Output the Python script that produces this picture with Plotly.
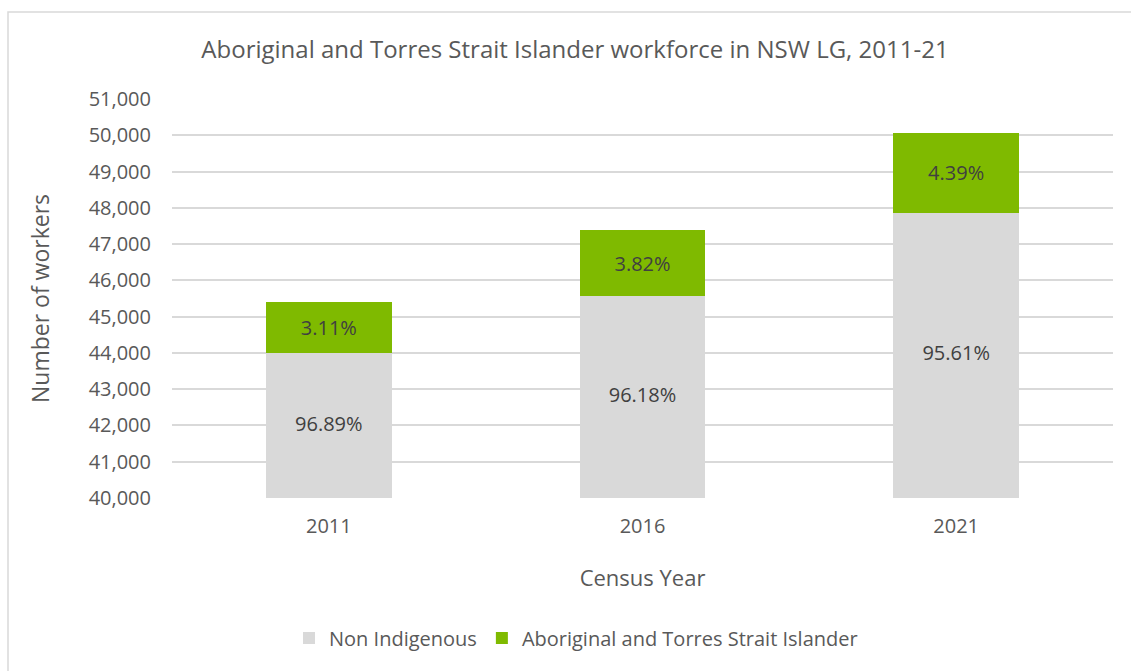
import plotly.graph_objects as go

years = ["2011", "2016", "2021"]
non_indigenous = [43990, 45570, 47870]
aboriginal = [1412, 1810, 2198]
non_ind_labels = ["96.89%", "96.18%", "95.61%"]
abor_labels = ["3.11%", "3.82%", "4.39%"]
y_min, y_max = 40000, 51000

W, H = 1131, 671
L, R, T, B = 172, 18, 99, 173
pw, ph = W - L - R, H - T - B

def px(x):
    return (x - L) / pw

def py(y):
    return (H - B - y) / ph

font_fam = "Open Sans, Lato, sans-serif"
txt = "#595959"
lbl = "#404040"

fig = go.Figure()
fig.add_trace(go.Bar(
    x=years, y=non_indigenous, name="Non Indigenous",
    marker=dict(color="#D9D9D9", line=dict(width=0)),
    textposition="none", hoverinfo="x+y+name",
))
fig.add_trace(go.Bar(
    x=years, y=aboriginal, name="Aboriginal and Torres Strait Islander",
    marker=dict(color="#7FBA00", line=dict(width=0)),
    text=abor_labels, textposition="inside", insidetextanchor="middle",
    textfont=dict(size=20, color=lbl, family=font_fam),
))
# labels for the visible part of the grey bars
fig.add_trace(go.Scatter(
    x=years, y=[(y_min + v) / 2 for v in non_indigenous],
    mode="text", text=non_ind_labels, showlegend=False, hoverinfo="skip",
    textfont=dict(size=20, color=lbl, family=font_fam),
))

fig.update_layout(
    width=W, height=H,
    barmode="stack", bargap=0.6,
    margin=dict(l=L, r=R, t=T, b=B),
    paper_bgcolor="white", plot_bgcolor="white",
    font=dict(family=font_fam, color=txt, size=20),
    title=dict(text="Aboriginal and Torres Strait Islander workforce in NSW LG, 2011-21",
               x=575 / W, xanchor="center", y=1 - 50 / H, yanchor="middle",
               font=dict(size=24, color=txt, family=font_fam)),
    xaxis=dict(title=dict(text="Census Year", font=dict(size=22, color=txt), standoff=32),
               showline=False, ticks="", tickfont=dict(size=20, color=txt),
               ticklabelstandoff=14, showgrid=False),
    yaxis=dict(title=dict(text="Number of workers", font=dict(size=23, color=txt), standoff=32),
               range=[y_min, y_max], dtick=1000, tickformat=",",
               showgrid=True, gridcolor="#D9D9D9", gridwidth=1.5,
               zeroline=False, showline=False, ticks="",
               ticklabelstandoff=20,
               tickfont=dict(size=20, color=txt)),
    legend=dict(orientation="h", x=px(576), xanchor="center", y=py(638), yanchor="middle",
                font=dict(size=20, color=txt), traceorder="normal"),
    showlegend=True,
)

fig.add_shape(type="rect", xref="paper", yref="paper",
              x0=px(8), x1=px(1160), y0=py(700), y1=py(12),
              line=dict(color="#D9D9D9", width=1.5), fillcolor="rgba(0,0,0,0)", layer="below")

fig.write_html("out.html", config={"displayModeBar": False},
               post_script="document.body.style.margin='0';")
